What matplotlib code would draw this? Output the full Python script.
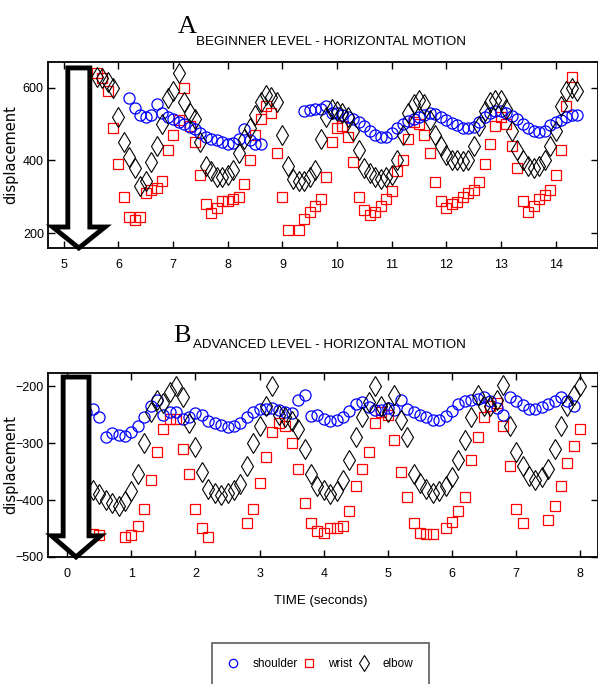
import numpy as np
import matplotlib
matplotlib.use('Agg')
import matplotlib.pyplot as plt
from matplotlib.patches import FancyArrow

plt.rcParams['font.family'] = ['Liberation Sans', 'DejaVu Sans']

# sampling step of the motion capture (seconds)
dt = 0.1

# A - beginner level, horizontal motion
beg_wrist_t0 = 5.6
beg_wrist = [640, 625, 590, 490, 390, 300, 245, 238, 245, 310,
             320, 325, 345, 430, 470, 510, 600, 495, 450, 360,
             280, 255, 270, 290, 290, 295, 300, 335, 400, 470,
             515, 550, 530, 420, 300, 210, 140, 210, 240, 260,
             275, 295, 355, 450, 490, 495, 465, 395, 300, 265,
             250, 260, 275, 295, 315, 370, 400, 460, 505, 500,
             470, 420, 340, 290, 270, 280, 285, 300, 310, 320,
             340, 390, 445, 495, 520, 500, 440, 380, 290, 260,
             275, 295, 305, 320, 360, 430, 550, 630]

beg_elbow_t0 = 5.6
beg_elbow = [630, 625, 615, 600, 520, 450, 410, 380, 330, 345,
             395, 440, 500, 570, 590, 640, 560, 530, 515, 450,
             385, 370, 355, 355, 360, 375, 420, 460, 490, 525,
             560, 580, 575, 560, 470, 385, 350, 345, 345, 355,
             375, 460, 520, 540, 535, 530, 520, 480, 430, 380,
             365, 355, 350, 355, 360, 400, 470, 530, 555, 565,
             555, 510, 470, 440, 415, 400, 400, 398, 400, 440,
             495, 535, 560, 565, 565, 540, 480, 430, 400, 385,
             378, 385, 400, 440, 480, 550, 590, 600, 590]

nan = np.nan
beg_shoulder_t0 = 6.2
beg_shoulder = [570, 545, 525, 520, 525, 555, 530, 520, 515, 505,
                500, 492, 485, 475, 465, 460, 455, 450, 445, 448,
                460, 485, 455, 445, 445, nan, nan, nan, nan, nan,
                nan, nan, 535, 538, 540, 542, 550, 530, 530, 525,
                520, 515, 505, 495, 480, 470, 465, 465, 475, 490,
                500, 508, 515, 520, 525, 530, 527, 518, 510, 503,
                498, 490, 488, 492, 505, 518, 530, 535, 535, 530,
                522, 513, 500, 488, 480, 478, 482, 498, 505, 512,
                520, 525, 525]

# B - advanced level, horizontal motion
adv_wrist_t0 = 0.4
adv_wrist = [-460, -462, -530, -535, -525, -465, -462, -445, -415, -365,
             -315, -275, -258, -258, -310, -355, -415, -450, -465, -530,
             -540, -545, -535, -525, -440, -415, -370, -325, -280, -265,
             -270, -300, -345, -405, -440, -455, -458, -450, -450, -445,
             -420, -375, -345, -315, -265, -245, -250, -295, -350, -395,
             -440, -458, -460, -460, -525, -450, -438, -420, -395, -330,
             -290, -255, -235, -230, -270, -340, -415, -440, -530, -540,
             -525, -435, -410, -375, -335, -305, -275]

adv_elbow_t0 = 0.4
adv_elbow = [-383, -390, -400, -405, -410, -402, -385, -355, -300, -245,
             -225, -230, -210, -200, -220, -265, -307, -350, -380, -388,
             -392, -388, -382, -372, -340, -300, -270, -235, -200, -250,
             -255, -262, -275, -310, -355, -375, -383, -390, -385, -365,
             -330, -290, -255, -228, -200, -235, -245, -215, -260, -290,
             -355, -370, -380, -388, -385, -375, -360, -330, -295, -255,
             -215, -235, -235, -225, -198, -270, -315, -340, -358, -365,
             -360, -345, -310, -270, -235, -215, -200]

adv_shoulder_t0 = 0.3
adv_shoulder = [-245, -240, -255, -290, -283, -285, -287, -280, -270, -255,
                -235, -225, -250, -245, -245, -258, -255, -248, -250, -262,
                -265, -268, -272, -270, -265, -255, -245, -240, -240, -238,
                -242, -245, -248, -225, -215, -252, -250, -258, -262, -260,
                -254, -243, -232, -228, -236, -242, -242, -238, -242, -225,
                -240, -245, -250, -255, -260, -260, -253, -243, -232, -226,
                -224, -222, -220, -226, -238, -250, -220, -226, -234, -240,
                -240, -237, -231, -226, -220, -226, -235]

labels = ['shoulder', 'wrist', 'elbow']


def times(t0, values):
    return t0 + dt * np.arange(len(values))


def draw_panel(ax, shoulder, wrist, elbow):
    hs = ax.plot(times(*shoulder), shoulder[1], 'o', ls='none', mfc='none',
                 mec='blue', ms=8, mew=0.9, zorder=3)[0]
    hw = ax.plot(times(*wrist), wrist[1], 's', ls='none', mfc='none',
                 mec='red', ms=7.5, mew=0.9, zorder=2)[0]
    he = ax.plot(times(*elbow), elbow[1], 'd', ls='none', mfc='none',
                 mec='black', ms=10.5, mew=0.8, zorder=4)[0]
    ax.tick_params(direction='in', top=True, right=True, length=5, width=1,
                   labelsize=9)
    ax.tick_params(axis='x', pad=8)
    ax.tick_params(axis='y', pad=3)
    for s in ax.spines.values():
        s.set_linewidth(1.3)
    ax.set_ylabel('displacement', family='DejaVu Sans', fontsize=10.5)
    ax.yaxis.set_label_coords(-0.054, 0.5)
    return [hs, hw, he]


fig = plt.figure(figsize=(5.98, 6.84), dpi=100)
ax1 = fig.add_axes([0.0803, 0.6374, 0.92, 0.272])
ax2 = fig.add_axes([0.0803, 0.1857, 0.92, 0.269])

draw_panel(ax1, (beg_shoulder_t0, beg_shoulder), (beg_wrist_t0, beg_wrist),
           (beg_elbow_t0, beg_elbow))
ax1.set_xlim(4.71, 14.78)
ax1.set_ylim(160, 670)
ax1.set_xticks(range(5, 15))
ax1.set_yticks([200, 400, 600])

handles = draw_panel(ax2, (adv_shoulder_t0, adv_shoulder),
                     (adv_wrist_t0, adv_wrist), (adv_elbow_t0, adv_elbow))
ax2.set_xlim(-0.3, 8.28)
ax2.set_ylim(-500, -177)
ax2.set_xticks(range(0, 9))
ax2.set_yticks([-500, -400, -300, -200])
ax2.set_xlabel('TIME (seconds)', fontsize=9.5)
ax2.xaxis.set_label_coords(0.495, -0.205)

# big hollow arrows pointing down at the left of each panel
for ax, cx, w, hw, hl, top in [(ax1, 0.056, 0.04, 0.095, 0.113, 0.968),
                               (ax2, 0.051, 0.047, 0.089, 0.115, 0.978)]:
    ax.add_patch(FancyArrow(cx, top, 0, -top, width=w, head_width=hw,
                            head_length=hl, length_includes_head=True,
                            transform=ax.transAxes, fc='white', ec='black',
                            lw=3.5, zorder=6, clip_on=False))

# panel titles: big serif letter followed by the narrow caption
fig.text(178 / 598, 1 - 33 / 684, 'A', family='Liberation Serif', fontsize=19)
fig.text(196 / 598, 1 - 45 / 684, 'BEGINNER LEVEL - HORIZONTAL MOTION',
         fontsize=9.6)
fig.text(173 / 598, 1 - 342 / 684, 'B', family='Liberation Serif', fontsize=19)
fig.text(193 / 598, 1 - 348 / 684, 'ADVANCED LEVEL - HORIZONTAL MOTION',
         fontsize=9.6)

leg = fig.legend(handles, labels, loc='upper left',
                 bbox_to_anchor=(212 / 598, 1 - 643 / 684), ncol=3,
                 fancybox=False, edgecolor='#444444', fontsize=8.5,
                 markerscale=0.75, handlelength=1.0, handletextpad=1.1,
                 columnspacing=0.5, borderpad=1.3, borderaxespad=0)
leg.get_frame().set_linewidth(1.3)

fig.savefig('out.png', dpi=100)
